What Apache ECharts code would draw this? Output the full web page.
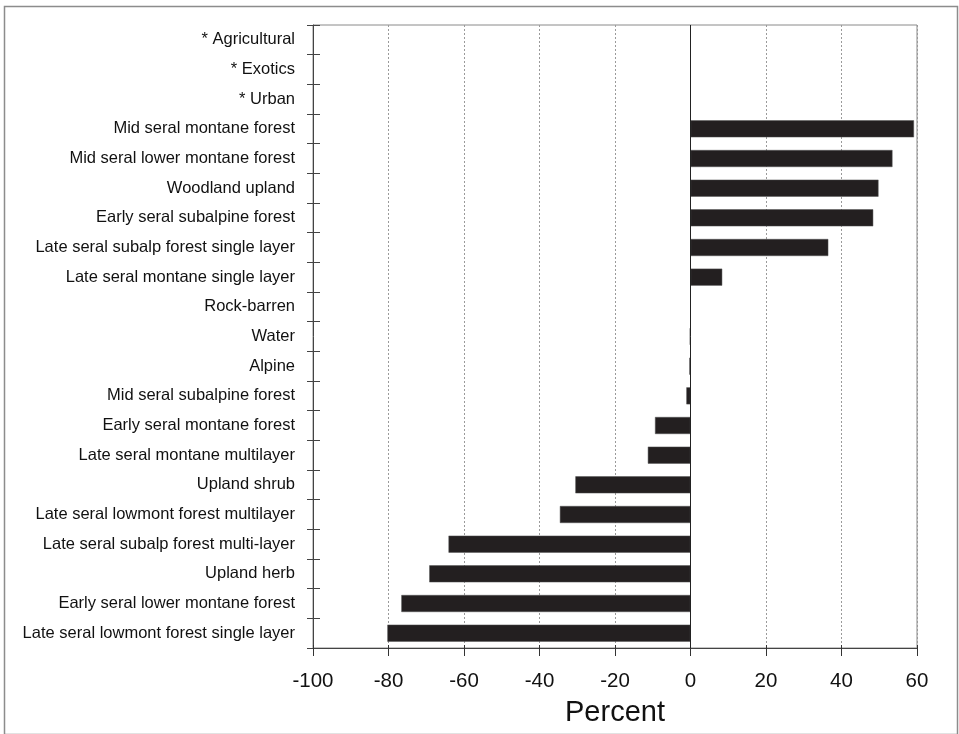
<!DOCTYPE html>
<html>
<head>
<meta charset="utf-8">
<script src="https://cdn.jsdelivr.net/npm/echarts@6/dist/echarts.min.js"></script>
<style>
  html, body { margin: 0; padding: 0; background: #fff; }
  #chart { width: 959px; height: 734px; }
</style>
</head>
<body>
<div id="chart"></div>
<script>
// Vegetation classes, top to bottom
const categories = [
  '* Agricultural',
  '* Exotics',
  '* Urban',
  'Mid seral montane forest',
  'Mid seral lower montane forest',
  'Woodland upland',
  'Early seral subalpine forest',
  'Late seral subalp forest single layer',
  'Late seral montane single layer',
  'Rock-barren',
  'Water',
  'Alpine',
  'Mid seral subalpine forest',
  'Early seral montane forest',
  'Late seral montane multilayer',
  'Upland shrub',
  'Late seral lowmont forest multilayer',
  'Late seral subalp forest multi-layer',
  'Upland herb',
  'Early seral lower montane forest',
  'Late seral lowmont forest single layer'
];

// Percent change per class
const percentChange = [
  null, null, null,
  59.2, 53.5, 49.8, 48.4, 36.5, 8.4,
  0, -0.2, -0.3, -1.1,
  -9.4, -11.3, -30.5, -34.6, -64.1, -69.2, -76.6, -80.3
];

// Axis range and tick labels
const xMin = -100;
const xMax = 60;
const xStep = 20;
const xTickLabels = ['-100', '-80', '-60', '-40', '-20', '0', '20', '40', '60'];

const font = 'Liberation Sans, Arial, sans-serif';
const chart = echarts.init(document.getElementById('chart'), null, { renderer: 'canvas' });

const gridRect = { left: 313, right: 42, top: 25, bottom: 86 };

chart.setOption({
  animation: false,
  backgroundColor: '#ffffff',
  grid: Object.assign({ show: true, borderColor: '#8a8a8a', borderWidth: 1, backgroundColor: 'transparent' }, gridRect),
  xAxis: [
    {
      type: 'value',
      position: 'bottom',
      min: xMin, max: xMax, interval: xStep,
      name: 'Percent',
      nameLocation: 'middle',
      nameGap: 50,
      nameTextStyle: { fontFamily: font, fontSize: 29, color: '#111' },
      axisLine: { show: true, onZero: false, lineStyle: { color: '#444', width: 1 } },
      axisTick: { show: true, length: 8, lineStyle: { color: '#333' } },
      axisLabel: {
        fontFamily: font, fontSize: 20.5, color: '#111', margin: 23,
        formatter: (v) => xTickLabels[Math.round((v - xMin) / xStep)]
      },
      splitLine: { show: true, lineStyle: { type: [2, 2], color: '#9a9a9a', width: 1 } }
    },
    {
      type: 'value',
      position: 'bottom',
      min: xMin, max: xMax, interval: xStep,
      axisLine: { show: false, onZero: false },
      axisTick: { show: true, inside: true, length: 3, lineStyle: { color: '#333' } },
      axisLabel: { show: false },
      splitLine: { show: false }
    }
  ],
  yAxis: [
    {
      type: 'category',
      data: categories,
      inverse: true,
      position: 'left',
      axisLine: { show: true, onZero: false, lineStyle: { color: '#444', width: 1 } },
      axisTick: { show: true, length: 6, lineStyle: { color: '#444' } },
      axisLabel: { fontFamily: font, fontSize: 16.5, color: '#111', margin: 18, padding: [3, 0, 0, 0] },
      splitLine: { show: false }
    },
    {
      type: 'category',
      data: categories,
      inverse: true,
      position: 'left',
      axisLine: { show: false, onZero: false },
      axisTick: { show: true, inside: true, length: 7, lineStyle: { color: '#444' } },
      axisLabel: { show: false },
      splitLine: { show: false }
    }
  ],
  series: [
    {
      type: 'bar',
      data: percentChange,
      xAxisIndex: 0,
      yAxisIndex: 0,
      barWidth: 17,
      itemStyle: { color: '#231f20', borderColor: '#555', borderWidth: 0.5 },
      markLine: {
        silent: true,
        symbol: 'none',
        label: { show: false },
        lineStyle: { color: '#222', type: 'solid', width: 1 },
        data: [{ xAxis: 0 }]
      }
    }
  ],
  graphic: [
    {
      type: 'rect',
      shape: { x: 4.5, y: 6.5, width: 953, height: 728 },
      style: { fill: 'none', stroke: '#8c8c8c', lineWidth: 1.5 },
      silent: true
    }
  ]
});
</script>
</body>
</html>
